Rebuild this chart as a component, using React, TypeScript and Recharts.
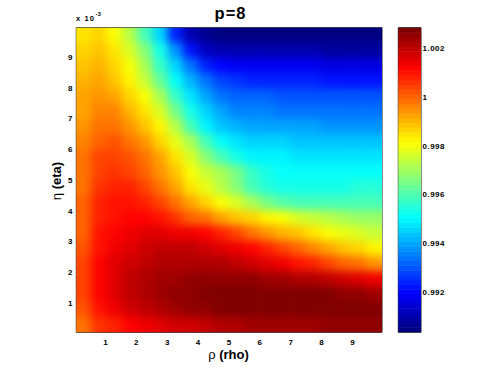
import React from 'react';
import { ScatterChart, Scatter, XAxis, YAxis } from 'recharts';

// ---------- data ----------
const rhoCenters = [0.30, 0.79, 1.29, 1.78, 2.28, 2.77, 3.27, 3.76, 4.26, 4.75, 5.25, 5.74, 6.24, 6.73, 7.23, 7.72, 8.22, 8.71, 9.21, 9.70];
// rows ordered top (large eta, x1e-3) to bottom
const etaCenters = [9.70, 9.21, 8.71, 8.22, 7.72, 7.23, 6.73, 6.24, 5.74, 5.25, 4.75, 4.26, 3.76, 3.27, 2.77, 2.28, 1.78, 1.29, 0.79, 0.30];

const row970 = [0.9984, 0.9987, 0.9981, 0.9972, 0.9960, 0.9945, 0.9925, 0.9910, 0.9906, 0.9905, 0.9905, 0.9905, 0.9905, 0.9905, 0.9905, 0.9905, 0.9905, 0.9905, 0.9905, 0.9905];
const row921 = [0.9986, 0.9989, 0.9984, 0.9977, 0.9966, 0.9953, 0.9938, 0.9922, 0.9913, 0.9911, 0.9911, 0.9910, 0.9910, 0.9910, 0.9910, 0.9910, 0.9909, 0.9909, 0.9909, 0.9909];
const row871 = [0.9988, 0.9990, 0.9986, 0.9980, 0.9970, 0.9958, 0.9946, 0.9933, 0.9924, 0.9920, 0.9919, 0.9919, 0.9918, 0.9918, 0.9918, 0.9918, 0.9917, 0.9917, 0.9917, 0.9917];
const row822 = [0.9990, 0.9992, 0.9989, 0.9983, 0.9975, 0.9964, 0.9951, 0.9941, 0.9933, 0.9928, 0.9926, 0.9925, 0.9925, 0.9924, 0.9924, 0.9924, 0.9923, 0.9923, 0.9923, 0.9923];
const row772 = [0.9992, 0.9995, 0.9993, 0.9987, 0.9980, 0.9970, 0.9958, 0.9948, 0.9940, 0.9934, 0.9932, 0.9931, 0.9931, 0.9930, 0.9930, 0.9930, 0.9929, 0.9929, 0.9929, 0.9929];
const row723 = [0.9993, 0.9997, 0.9996, 0.9991, 0.9985, 0.9977, 0.9965, 0.9953, 0.9945, 0.9939, 0.9936, 0.9935, 0.9935, 0.9934, 0.9934, 0.9934, 0.9933, 0.9933, 0.9933, 0.9933];
const row673 = [0.9995, 0.9999, 0.9999, 0.9995, 0.9989, 0.9982, 0.9972, 0.9960, 0.9950, 0.9944, 0.9941, 0.9940, 0.9940, 0.9939, 0.9939, 0.9939, 0.9938, 0.9938, 0.9938, 0.9938];
const row624 = [0.9997, 1.0001, 1.0002, 0.9999, 0.9994, 0.9987, 0.9979, 0.9970, 0.9960, 0.9951, 0.9947, 0.9946, 0.9945, 0.9945, 0.9944, 0.9944, 0.9944, 0.9943, 0.9943, 0.9943];
const row574 = [0.9998, 1.0003, 1.0004, 1.0002, 0.9998, 0.9992, 0.9984, 0.9976, 0.9967, 0.9959, 0.9953, 0.9950, 0.9949, 0.9949, 0.9948, 0.9948, 0.9948, 0.9948, 0.9948, 0.9948];
const row525 = [0.9999, 1.0004, 1.0006, 1.0004, 1.0000, 0.9995, 0.9988, 0.9980, 0.9975, 0.9970, 0.9965, 0.9958, 0.9953, 0.9951, 0.9951, 0.9951, 0.9951, 0.9951, 0.9951, 0.9951];
const row475 = [0.9999, 1.0006, 1.0008, 1.0007, 1.0004, 0.9999, 0.9993, 0.9985, 0.9978, 0.9972, 0.9966, 0.9960, 0.9956, 0.9954, 0.9954, 0.9954, 0.9954, 0.9954, 0.9955, 0.9955];
const row426 = [1.0000, 1.0007, 1.0009, 1.0010, 1.0008, 1.0004, 0.9999, 0.9992, 0.9986, 0.9980, 0.9976, 0.9970, 0.9965, 0.9962, 0.9960, 0.9960, 0.9960, 0.9960, 0.9960, 0.9960];
const row376 = [1.0001, 1.0008, 1.0010, 1.0012, 1.0012, 1.0010, 1.0006, 1.0001, 0.9998, 0.9993, 0.9989, 0.9986, 0.9983, 0.9980, 0.9977, 0.9974, 0.9972, 0.9970, 0.9969, 0.9968];
const row327 = [1.0001, 1.0009, 1.0012, 1.0014, 1.0015, 1.0015, 1.0014, 1.0013, 1.0011, 1.0008, 1.0004, 0.9999, 0.9995, 0.9991, 0.9988, 0.9985, 0.9981, 0.9978, 0.9976, 0.9974];
const row277 = [1.0002, 1.0010, 1.0013, 1.0016, 1.0018, 1.0019, 1.0019, 1.0019, 1.0018, 1.0016, 1.0014, 1.0011, 1.0008, 1.0004, 1.0000, 0.9997, 0.9993, 0.9989, 0.9986, 0.9983];
const row228 = [1.0003, 1.0011, 1.0015, 1.0018, 1.0020, 1.0022, 1.0022, 1.0022, 1.0022, 1.0021, 1.0020, 1.0018, 1.0016, 1.0013, 1.0010, 1.0007, 1.0004, 1.0001, 0.9998, 0.9995];
const row178 = [1.0003, 1.0012, 1.0016, 1.0019, 1.0021, 1.0023, 1.0024, 1.0025, 1.0025, 1.0025, 1.0025, 1.0025, 1.0024, 1.0023, 1.0022, 1.0021, 1.0020, 1.0018, 1.0016, 1.0013];
const row129 = [1.0003, 1.0011, 1.0016, 1.0020, 1.0022, 1.0024, 1.0025, 1.0026, 1.0027, 1.0027, 1.0027, 1.0027, 1.0028, 1.0028, 1.0028, 1.0027, 1.0027, 1.0026, 1.0025, 1.0024];
const row079 = [1.0002, 1.0010, 1.0014, 1.0017, 1.0020, 1.0022, 1.0024, 1.0025, 1.0026, 1.0027, 1.0027, 1.0028, 1.0028, 1.0028, 1.0028, 1.0028, 1.0028, 1.0028, 1.0028, 1.0028];
const row030 = [0.9998, 1.0005, 1.0008, 1.0011, 1.0013, 1.0015, 1.0017, 1.0018, 1.0020, 1.0021, 1.0022, 1.0023, 1.0023, 1.0024, 1.0024, 1.0024, 1.0025, 1.0025, 1.0025, 1.0025];

const gridRows = [row970, row921, row871, row822, row772, row723, row673, row624, row574, row525,
  row475, row426, row376, row327, row277, row228, row178, row129, row079, row030];

const xTicks = [1, 2, 3, 4, 5, 6, 7, 8, 9];
const yTicks = [1, 2, 3, 4, 5, 6, 7, 8, 9];
const cbTicks = [0.992, 0.994, 0.996, 0.998, 1, 1.002];
const axisDomain: [number, number] = [0.05, 9.95];
const cMin = 0.99036;
const cMax = 1.00283;

// ---------- layout / style ----------
const W = 499;
const H = 375;
const PL = 76.3, PR = 382, PT = 27.7, PB = 332.3;
const CBL = 398.3, CBR = 421;
const NC = rhoCenters.length;
const NR = etaCenters.length;
const CELL_W = (PR - PL) / NC;
const CELL_H = (PB - PT) / NR;
const NLEV = 64;
const BAND_H = (PB - PT) / NLEV;
const FONT = '"Liberation Sans", Arial, Helvetica, sans-serif';
const FRAME = '#1a1a1a';

const clamp = (v: number) => Math.max(0, Math.min(1, v));
const jetIdx = (idx: number) => {
  const s = idx / (NLEV - 1);
  const r = clamp(1.5 - Math.abs(4 * s - 3));
  const g = clamp(1.5 - Math.abs(4 * s - 2));
  const b = clamp(1.5 - Math.abs(4 * s - 1));
  return `rgb(${Math.round(r * 255)},${Math.round(g * 255)},${Math.round(b * 255)})`;
};
const jetVal = (v: number) => {
  const t = (v - cMin) / (cMax - cMin);
  const idx = Math.max(0, Math.min(NLEV - 1, Math.floor(t * NLEV)));
  return jetIdx(idx);
};

const cells = etaCenters.flatMap((eta, r) =>
  rhoCenters.map((rho, c) => ({ rho, eta, v: gridRows[r][c] }))
);
const cbBands = Array.from({ length: NLEV }, (_, k) => ({
  x: 0.5,
  y: cMin + ((k + 0.5) * (cMax - cMin)) / NLEV,
  k,
}));

const CellShape = (props: any) => {
  const { cx, cy, payload } = props;
  return (
    <rect
      x={cx - CELL_W / 2 - 0.3}
      y={cy - CELL_H / 2 - 0.3}
      width={CELL_W + 0.6}
      height={CELL_H + 0.6}
      fill={jetVal(payload.v)}
      stroke="none"
    />
  );
};

const BandShape = (props: any) => {
  const { cx, cy, payload } = props;
  const w = CBR - CBL;
  return (
    <rect
      x={cx - w / 2}
      y={cy - BAND_H / 2 - 0.25}
      width={w}
      height={BAND_H + 0.5}
      fill={jetIdx(payload.k)}
      stroke="none"
    />
  );
};

const tickStyle = { fontSize: 8, fontWeight: 'bold' as const, fill: '#000', fontFamily: FONT, letterSpacing: 0.5 };

export default function App() {
  return (
    <div style={{ position: 'absolute', left: 0, top: 0, width: W, height: H, background: '#fff', fontFamily: FONT }}>
      <style>{`.heatcells { filter: url(#smooth); }`}</style>
      <div style={{ position: 'absolute', left: 0, top: 0 }}>
        <ScatterChart
          width={W}
          height={H}
          margin={{ top: PT - 1, right: W - PR - 1, bottom: H - PB - 30, left: PL - 40 }}
        >
          <Scatter
            data={cells}
            xAxisId="b"
            yAxisId="l"
            dataKey="eta"
            shape={CellShape}
            isAnimationActive={false}
            className="heatcells"
          />
          <XAxis
            xAxisId="b"
            type="number"
            dataKey="rho"
            orientation="bottom"
            domain={axisDomain}
            allowDataOverflow
            ticks={xTicks}
            interval={0}
            height={30}
            tickSize={-3.5}
            tickMargin={10.5}
            axisLine={{ stroke: FRAME }}
            tickLine={{ stroke: FRAME }}
            tick={tickStyle}
          />
          <XAxis
            xAxisId="t"
            type="number"
            dataKey="rho"
            orientation="top"
            domain={axisDomain}
            allowDataOverflow
            ticks={xTicks}
            interval={0}
            height={1}
            tickSize={-3.5}
            tick={false}
            axisLine={{ stroke: FRAME }}
            tickLine={{ stroke: FRAME }}
          />
          <YAxis
            yAxisId="l"
            type="number"
            dataKey="eta"
            orientation="left"
            domain={axisDomain}
            allowDataOverflow
            ticks={yTicks}
            interval={0}
            width={40}
            tickSize={-3.5}
            tickMargin={6.8}
            axisLine={{ stroke: FRAME }}
            tickLine={{ stroke: FRAME }}
            tick={tickStyle}
          />
          <YAxis
            yAxisId="r"
            type="number"
            dataKey="eta"
            orientation="right"
            domain={axisDomain}
            allowDataOverflow
            ticks={yTicks}
            interval={0}
            width={1}
            tickSize={-3.5}
            tick={false}
            axisLine={{ stroke: FRAME }}
            tickLine={{ stroke: FRAME }}
          />
        </ScatterChart>
      </div>
      <div style={{ position: 'absolute', left: 0, top: 0 }}>
        <ScatterChart
          width={W}
          height={H}
          margin={{ top: PT - 1, right: W - CBR - 40, bottom: H - PB - 1, left: CBL - 1 }}
        >
          <Scatter
            data={cbBands}
            xAxisId="b"
            yAxisId="r"
            dataKey="y"
            shape={BandShape}
            isAnimationActive={false}
          />
          <XAxis xAxisId="b" type="number" dataKey="x" orientation="bottom" domain={[0, 1]} height={1}
            tick={false} tickLine={false} axisLine={{ stroke: FRAME }} />
          <XAxis xAxisId="t" type="number" dataKey="x" orientation="top" domain={[0, 1]} height={1}
            tick={false} tickLine={false} axisLine={{ stroke: FRAME }} />
          <YAxis yAxisId="l" type="number" dataKey="y" orientation="left" domain={[cMin, cMax]} allowDataOverflow
            ticks={cbTicks} interval={0} width={1} tickSize={-2.5} tick={false}
            axisLine={{ stroke: FRAME }} tickLine={{ stroke: FRAME }} />
          <YAxis yAxisId="r" type="number" dataKey="y" orientation="right" domain={[cMin, cMax]} allowDataOverflow
            ticks={cbTicks} interval={0} width={40} tickSize={-2.5} tickMargin={4}
            axisLine={{ stroke: FRAME }} tickLine={{ stroke: FRAME }} tick={tickStyle} />
        </ScatterChart>
      </div>
      <svg width={W} height={H} style={{ position: 'absolute', left: 0, top: 0, pointerEvents: 'none' }}>
        <defs>
          <filter id="smooth" x="0" y="0" width="1" height="1" colorInterpolationFilters="sRGB">
            <feGaussianBlur stdDeviation="4" />
            <feComponentTransfer>
              <feFuncA type="linear" slope="0" intercept="1" />
            </feComponentTransfer>
          </filter>
        </defs>
        <text x={230.5} y={18.7} textAnchor="middle" fontFamily={FONT} fontWeight="bold" fontSize={16.5} letterSpacing={1} fill="#000">p=8</text>
        <text x={76} y={20.7} fontFamily={FONT} fontWeight="bold" fontSize={7.5} letterSpacing={1.1} fill="#000">
          x 10
          <tspan dx={0.5} dy={-5} fontSize={5.5} letterSpacing={0.3}>-3</tspan>
        </text>
        <text x={228.5} y={359} textAnchor="middle" fontFamily={FONT} fontWeight="bold" fontSize={13} fill="#000">
          <tspan fontWeight="normal">ρ</tspan> (rho)
        </text>
        <text transform="translate(61,181) rotate(-90)" textAnchor="middle" fontFamily={FONT} fontWeight="bold" fontSize={13} fill="#000">
          <tspan fontWeight="normal">η</tspan> (eta)
        </text>
      </svg>
    </div>
  );
}
